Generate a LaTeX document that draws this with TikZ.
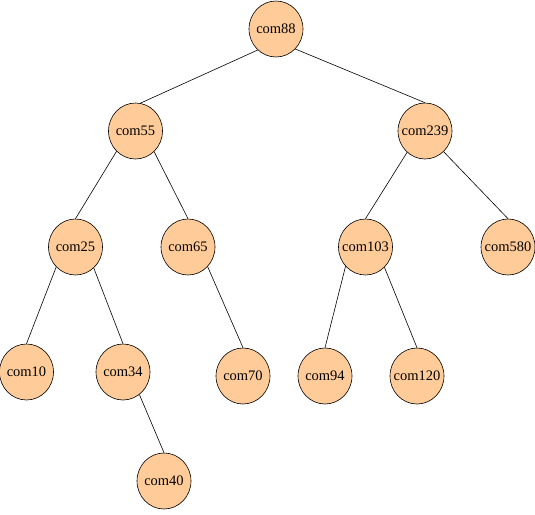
\documentclass[tikz,border=0pt]{standalone}
\usepackage{fontspec}
\setmainfont{Liberation Serif}
\usetikzlibrary{shapes.geometric}
\definecolor{peach}{HTML}{FFCC99}
\tikzset{
  tnode/.style={ellipse, draw=black, line width=0.6pt, fill=peach, minimum width=54pt, minimum height=56pt, inner sep=0pt, font=\fontsize{14.5pt}{16pt}\selectfont},
  tedge/.style={draw=black, line width=0.6pt}
}
\newcommand{\tl}[1]{\makebox[0pt]{#1}}
\begin{document}
\begin{tikzpicture}[x=1pt,y=-1pt]
\useasboundingbox (0,0) rectangle (535,514);
\node[tnode] (c88) at (276,29) {\tl{com88}};
\node[tnode] (c55) at (135.5,131) {\tl{com55}};
\node[tnode] (c239) at (425,131) {\tl{com239}};
\node[tnode] (c25) at (75.5,247) {\tl{com25}};
\node[tnode] (c65) at (188,247) {\tl{com65}};
\node[tnode] (c103) at (365.5,247) {\tl{com103}};
\node[tnode] (c580) at (508,247) {\tl{com580}};
\node[tnode] (c10) at (26.5,372) {\tl{com10}};
\node[tnode] (c34) at (123,372) {\tl{com34}};
\node[tnode] (c70) at (243,376) {\tl{com70}};
\node[tnode] (c94) at (325,376) {\tl{com94}};
\node[tnode] (c120) at (417,376) {\tl{com120}};
\node[tnode] (c40) at (164,481) {\tl{com40}};
\draw[tedge] (c88.229) -- (c55.80);
\draw[tedge] (c88.314) -- (c239.north);
\draw[tedge] (c55.227) -- (c25.north);
\draw[tedge] (c55.312) -- (c65.north);
\draw[tedge] (c239.230) -- (c103.north);
\draw[tedge] (c239.312) -- (c580.north);
\draw[tedge] (c25.226) -- (c10.north);
\draw[tedge] (c25.311) -- (c34.north);
\draw[tedge] (c65.315) -- (c70.north);
\draw[tedge] (c103.224) -- (c94.north);
\draw[tedge] (c103.313) -- (c120.north);
\draw[tedge] (c34.306) -- (c40.north);
\end{tikzpicture}
\end{document}
